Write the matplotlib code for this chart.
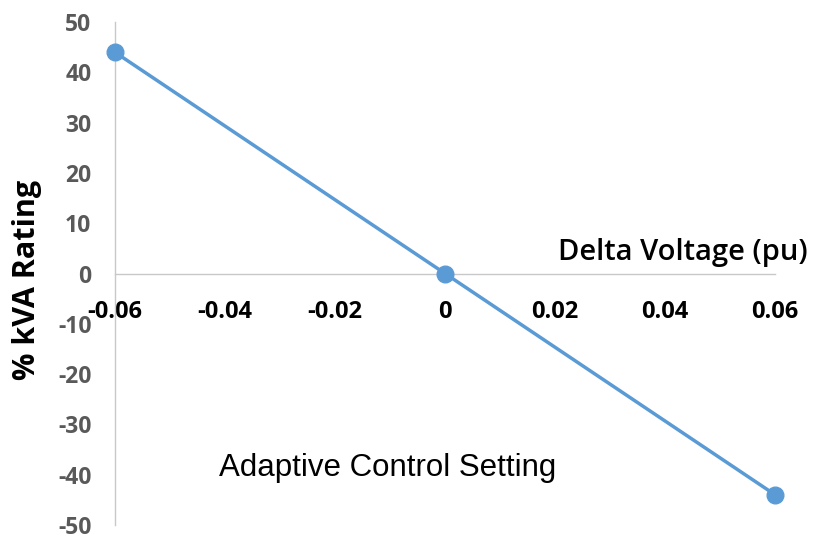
import matplotlib.pyplot as plt

# adaptive control setting: % kVA vs delta voltage
delta_v = [-0.06, 0.0, 0.06]
kva_pct = [44, 0, -44]

x_ticks = [-0.06, -0.04, -0.02, 0, 0.02, 0.04, 0.06]
x_labels = ['-0.06', '-0.04', '-0.02', '0', '0.02', '0.04', '0.06']
y_ticks = [50, 40, 30, 20, 10, 0, -10, -20, -30, -40, -50]

fig = plt.figure(figsize=(8.17, 5.40), dpi=100)
ax = fig.add_axes([0.1408, 0.028, 0.8078, 0.931])

ax.plot(delta_v, kva_pct, color='#5B9BD5', linewidth=2.5, marker='o',
        markersize=12, clip_on=False, zorder=3)

ax.set_xlim(-0.06, 0.06)
ax.set_ylim(-50, 50)

# x axis sits on the zero line
ax.spines['bottom'].set_position(('data', 0))
ax.spines['top'].set_visible(False)
ax.spines['right'].set_visible(False)
for s in ('bottom', 'left'):
    ax.spines[s].set_color('#C8C8C8')
    ax.spines[s].set_linewidth(1.0)

ax.set_xticks(x_ticks)
ax.set_xticklabels(x_labels, fontfamily='Open Sans', fontweight='bold',
                   fontsize=17, color='black')
ax.set_yticks(y_ticks)
ax.set_yticklabels([str(v) for v in y_ticks], fontfamily='Open Sans',
                   fontweight='bold', fontsize=16.5, color='#595959')
ax.tick_params(axis='x', length=0, pad=19)
ax.tick_params(axis='y', length=0, pad=17)

ax.text(0.066, 2.6, 'Delta Voltage (pu)', ha='right', va='baseline',
        fontfamily='Open Sans', fontweight='semibold', fontsize=21,
        clip_on=False)
fig.text(0.033, 0.481, '% kVA Rating', rotation=90, ha='center', va='center',
         fontfamily='Open Sans', fontweight='bold', fontsize=22)
ax.text(-0.0105, -38.7, 'Adaptive Control Setting', ha='center', va='center',
        fontfamily='Liberation Sans', fontsize=22.5)

fig.savefig('out.png', dpi=100)
